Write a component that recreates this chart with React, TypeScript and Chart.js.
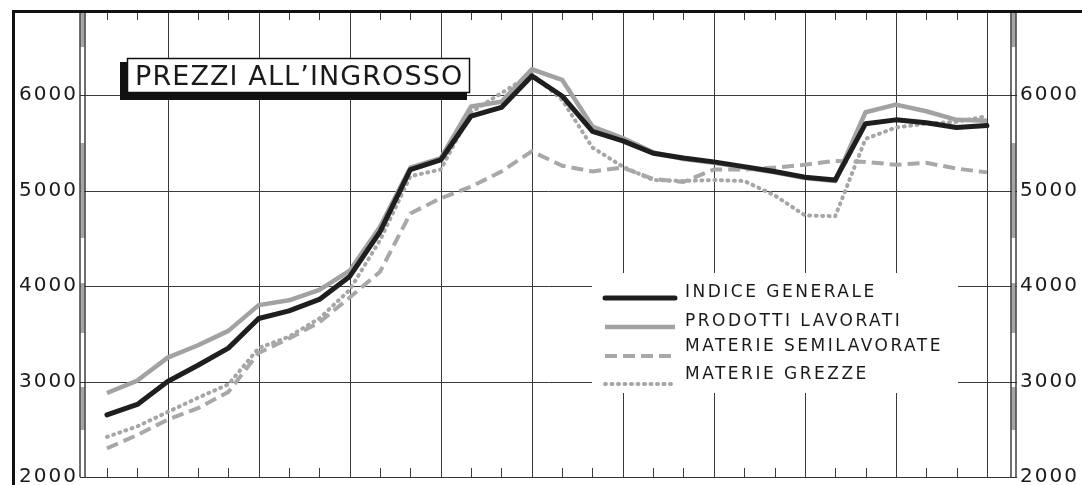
import React, { useEffect, useRef } from 'react';
import { Chart, registerables } from 'chart.js';

Chart.register(...registerables);

// ---- data ----
const PERIODS = [0, 1, 2, 3, 4, 5, 6, 7, 8, 9, 10, 11, 12, 13, 14, 15, 16, 17, 18, 19, 20, 21, 22, 23, 24, 25, 26, 27, 28, 29];
const Y_TICKS = [2000, 3000, 4000, 5000, 6000];
const TITLE = 'PREZZI ALL’INGROSSO';
const SERIES_NAMES = ['INDICE GENERALE', 'PRODOTTI LAVORATI', 'MATERIE SEMILAVORATE', 'MATERIE GREZZE'];

const INDICE_GENERALE = [2650, 2760, 3000, 3170, 3350, 3660, 3740, 3860, 4100, 4570, 5220, 5320, 5780, 5870, 6200, 5990, 5620, 5520, 5390, 5340, 5300, 5250, 5200, 5140, 5110, 5700, 5740, 5710, 5660, 5680];
const PRODOTTI_LAVORATI = [2880, 3010, 3250, 3380, 3530, 3800, 3850, 3960, 4160, 4620, 5240, 5340, 5880, 5930, 6270, 6160, 5670, 5550, 5400, 5330, 5290, 5240, 5190, 5130, 5100, 5820, 5900, 5830, 5740, 5730];
const MATERIE_SEMILAVORATE = [2300, 2440, 2600, 2720, 2890, 3300, 3450, 3620, 3880, 4150, 4760, 4920, 5040, 5200, 5410, 5260, 5200, 5240, 5120, 5090, 5220, 5220, 5240, 5270, 5310, 5300, 5270, 5290, 5230, 5190];
const MATERIE_GREZZE = [2420, 2530, 2680, 2830, 2970, 3350, 3470, 3660, 3960, 4480, 5150, 5220, 5820, 6020, 6220, 5950, 5450, 5250, 5110, 5100, 5110, 5100, 4950, 4740, 4730, 5540, 5660, 5700, 5720, 5780];

const FONT = '"DejaVu Sans", sans-serif';
const INK = '#1a1a1a';

function spacedText(ctx: CanvasRenderingContext2D, text: string, x: number, y: number, size: number, spacing: number, align: 'left' | 'right') {
  ctx.font = `${size}px ${FONT}`;
  (ctx as any).letterSpacing = `${spacing}px`;
  ctx.textBaseline = 'middle';
  ctx.textAlign = 'left';
  const w = ctx.measureText(text).width;
  const sx = align === 'right' ? x - w + spacing : x;
  ctx.fillText(text, sx, y);
  (ctx as any).letterSpacing = '0px';
}

function seg(ctx: CanvasRenderingContext2D, x1: number, y1: number, x2: number, y2: number) {
  ctx.beginPath();
  ctx.moveTo(x1, y1);
  ctx.lineTo(x2, y2);
  ctx.stroke();
}

function strip(ctx: CanvasRenderingContext2D, cx: number, top: number, bottom: number) {
  const grays = [[12, 47], [143, 238], [283, 333], [387, 430]];
  ctx.fillStyle = '#a5a5a5';
  for (const [a, b] of grays) ctx.fillRect(cx - 2, a, 4, b - a);
  ctx.strokeStyle = '#222';
  ctx.lineWidth = 1.3;
  seg(ctx, cx - 2.5, top, cx - 2.5, bottom);
  seg(ctx, cx + 2.5, top, cx + 2.5, bottom);
}

const decor = {
  id: 'decor',
  beforeDatasetsDraw(chart: any) {
    const { ctx, chartArea: a, scales } = chart;
    const x = scales.x;
    const y = scales.y;
    ctx.save();
    ctx.strokeStyle = '#3a3a3a';
    ctx.lineWidth = 1;
    for (const t of Y_TICKS) {
      if (t === Y_TICKS[0]) continue;
      const py = Math.round(y.getPixelForValue(t)) + 0.5;
      seg(ctx, 80, py, 1017, py);
    }
    PERIODS.forEach((p, i) => {
      const px = Math.round(x.getPixelForValue(p)) + 0.5;
      if (i % 3 === 2) {
        seg(ctx, px, a.top, px, a.bottom);
      } else {
        seg(ctx, px, a.top, px, a.top + 9);
        seg(ctx, px, a.bottom - 9, px, a.bottom);
      }
    });
    ctx.restore();
  },
  afterDatasetsDraw(chart: any) {
    const { ctx, chartArea: a, scales } = chart;
    const y = scales.y;
    ctx.save();

    // title box
    ctx.fillStyle = '#111';
    ctx.fillRect(120, 62, 347, 38);
    ctx.fillStyle = '#fff';
    ctx.fillRect(127, 58, 343, 35);
    ctx.strokeStyle = '#111';
    ctx.lineWidth = 1.5;
    ctx.strokeRect(127.5, 58.5, 342, 34);
    ctx.fillStyle = INK;
    spacedText(ctx, TITLE, 135, 77.5, 27, 1.1, 'left');

    // legend box
    ctx.fillStyle = '#fff';
    ctx.fillRect(592, 273, 366, 120);
    const textY = [293, 322, 347, 375];
    const sampleY = [298, 327, 356, 384];
    chart.data.datasets.forEach((ds: any, i: number) => {
      ctx.save();
      ctx.strokeStyle = ds.borderColor;
      ctx.lineWidth = ds.borderWidth;
      ctx.lineCap = ds.borderCapStyle || 'butt';
      ctx.setLineDash(ds.borderDash || []);
      seg(ctx, 605, sampleY[i], 675, sampleY[i]);
      ctx.restore();
      ctx.fillStyle = INK;
      spacedText(ctx, ds.label, 685, textY[i], 17, 2.5, 'left');
    });

    // axis labels
    ctx.fillStyle = INK;
    for (const t of Y_TICKS) {
      const py = y.getPixelForValue(t);
      spacedText(ctx, String(t), 76, py, 20, 2, 'right');
      spacedText(ctx, String(t), 1020, py, 20, 2, 'left');
    }

    // axes strips
    strip(ctx, a.left - 0.5, a.top, a.bottom);
    strip(ctx, a.right + 0.5, a.top, a.bottom);

    // bottom axis
    ctx.strokeStyle = '#333';
    ctx.lineWidth = 1.2;
    seg(ctx, 80, a.bottom + 0.5, 1017, a.bottom + 0.5);

    // outer frame
    ctx.strokeStyle = '#111';
    ctx.lineWidth = 3;
    seg(ctx, 13.5, 10, 13.5, 485);
    seg(ctx, 12, a.top + 0.5, 1082, a.top + 0.5);

    ctx.restore();
  },
};

export default function App() {
  const ref = useRef<HTMLCanvasElement | null>(null);

  useEffect(() => {
    if (!ref.current) return;
    const pts = (arr: number[]) => arr.map((v, i) => ({ x: PERIODS[i], y: v }));
    const chart = new Chart(ref.current, {
      type: 'line',
      data: {
        datasets: [
          {
            label: SERIES_NAMES[0],
            data: pts(INDICE_GENERALE),
            borderColor: '#1e1e1e',
            borderWidth: 5,
            pointRadius: 0,
            tension: 0,
            borderJoinStyle: 'round',
            borderCapStyle: 'round',
          },
          {
            label: SERIES_NAMES[1],
            data: pts(PRODOTTI_LAVORATI),
            borderColor: '#a2a2a2',
            borderWidth: 4.5,
            pointRadius: 0,
            tension: 0,
            borderJoinStyle: 'round',
            borderCapStyle: 'butt',
          },
          {
            label: SERIES_NAMES[2],
            data: pts(MATERIE_SEMILAVORATE),
            borderColor: '#a8a8a8',
            borderWidth: 4,
            borderDash: [12, 6],
            pointRadius: 0,
            tension: 0,
            borderJoinStyle: 'round',
            borderCapStyle: 'butt',
          },
          {
            label: SERIES_NAMES[3],
            data: pts(MATERIE_GREZZE),
            borderColor: '#a6a6a6',
            borderWidth: 4,
            borderDash: [1, 5.5],
            pointRadius: 0,
            tension: 0,
            borderJoinStyle: 'round',
            borderCapStyle: 'round',
          },
        ],
      },
      options: {
        animation: false,
        responsive: false,
        devicePixelRatio: 1,
        layout: { padding: { left: 83, right: 69, top: 11, bottom: 8 } },
        plugins: { legend: { display: false }, tooltip: { enabled: false }, title: { display: false } },
        scales: {
          x: { type: 'linear', display: false, min: -0.79, max: 29.86 },
          y: { type: 'linear', display: false, min: 2000, max: 6880 },
        },
      },
      plugins: [decor],
    } as any);
    return () => chart.destroy();
  }, []);

  return (
    <div style={{ position: 'fixed', left: 0, top: 0, width: 1082, height: 485, background: '#fff' }}>
      <canvas ref={ref} width={1082} height={485} style={{ display: 'block' }} />
    </div>
  );
}
